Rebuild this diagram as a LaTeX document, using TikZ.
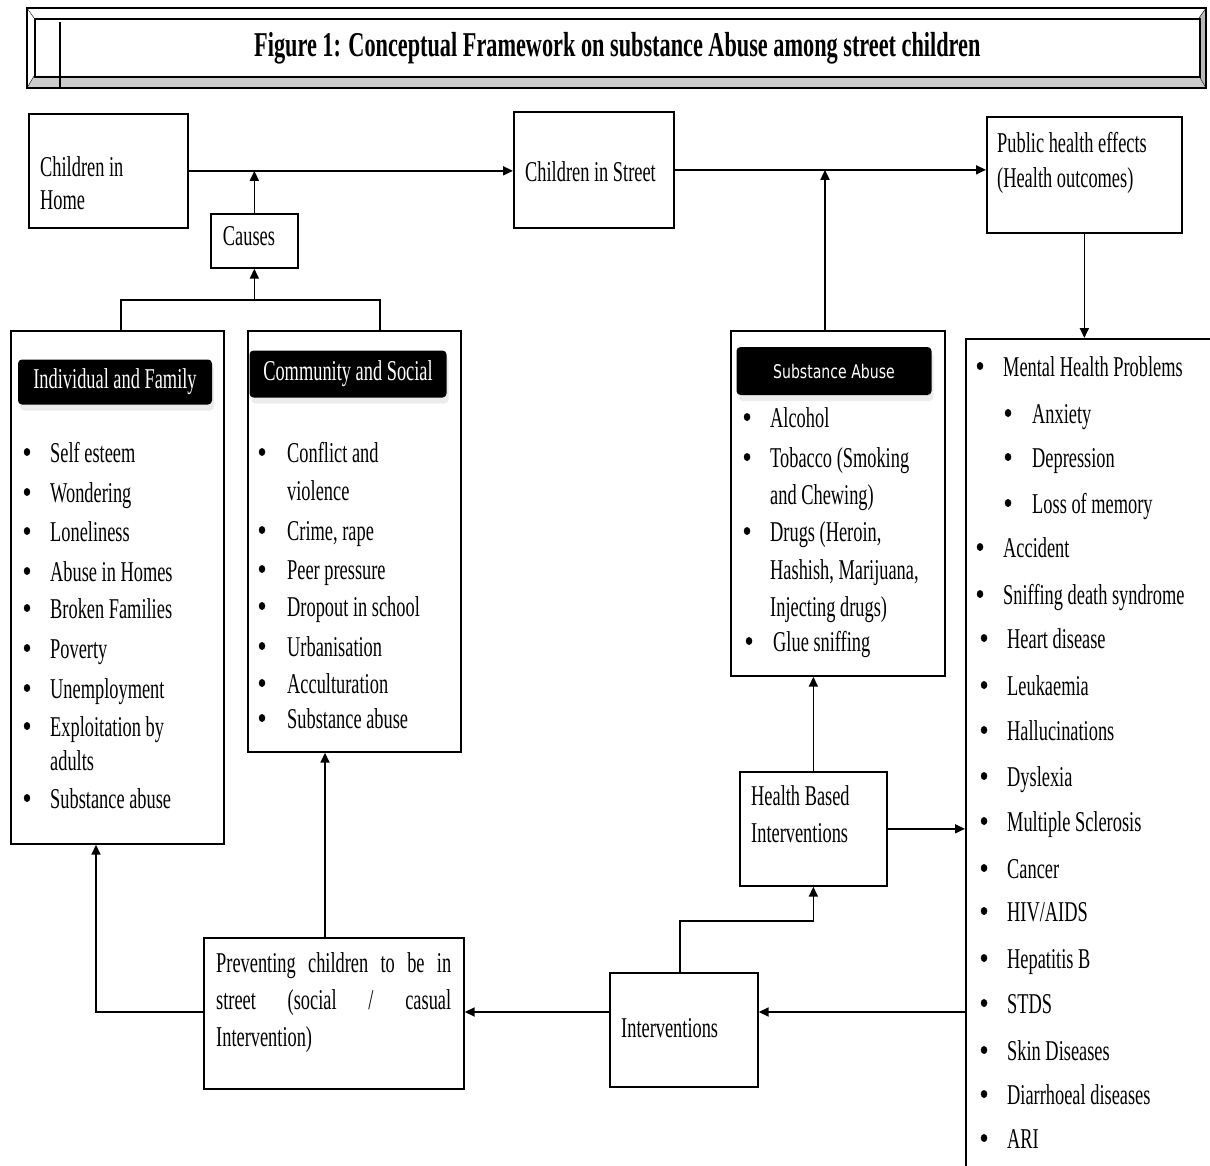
\documentclass[tikz,border=0pt]{standalone}
\usepackage{fontspec}
\setmainfont{Liberation Serif}[FakeStretch=0.64]
\newfontfamily\hdrsans{DejaVu Sans}[FakeStretch=0.75]
\usepackage{tikz}
\usetikzlibrary{arrows.meta, positioning, calc, shadows, shapes.geometric}
\newcommand{\bodyfont}{\fontsize{28.7pt}{34pt}\selectfont}
\newcommand{\titlefont}{\fontsize{34.8pt}{40pt}\selectfont\bfseries}

\begin{document}
\begin{tikzpicture}[
        x=1pt, y=-1pt,
        every node/.style={font=\bodyfont},
        box/.style={draw, line width=1.7pt, anchor=north west, inner sep=0pt},
        hdr/.style={fill=black, rounded corners=4pt, text=white, inner sep=0pt,
            drop shadow={shadow xshift=2pt, shadow yshift=-6pt, fill=black!15}},
        item/.style={anchor=base west, inner sep=0pt},
        bul/.style={anchor=base, inner sep=0pt},
        dot/.style={ellipse, fill, minimum width=6.5pt, minimum height=8pt, inner sep=0pt},
        line/.style={line width=1.7pt},
        arrow/.style={-{Triangle[length=10pt, width=9pt]}, line width=1.7pt}
    ]
        \useasboundingbox (0,0) rectangle (1210,1166);
        \clip (0,0) rectangle (1210,1166);

        % Title frame
        \fill[gray!40] (27,88) -- (1206,88) -- (1199,76) -- (34,76) -- cycle;
        \fill[gray!55] (1206,8) -- (1206,88) -- (1199,76) -- (1199,18) -- cycle;
        \draw[line width=1.8pt] (27,8) rectangle (1206,88);
        \draw[thin] (27,8) -- (34,18) (27,88) -- (34,76) (1206,8) -- (1199,18) (1206,88) -- (1199,76);
        \node[box, minimum width=1165pt, minimum height=58pt, font=\titlefont] (title) at (34,18)
            {Figure 1: Conceptual Framework on substance Abuse among street children};
        \draw[line width=1.8pt] (60,22) -- (60,88);

        % Top row
        \node[box, minimum width=159pt, minimum height=114pt] (home) at (28,113) {};
        \node[item] (home1) at (40,177) {Children in};
        \node[item] (home2) at (40,210) {Home};
        \node[box, minimum width=87pt, minimum height=54pt] (causes) at (210,213) {};
        \node[bul] (causesTxt) at (249,246) {Causes};
        \node[box, minimum width=160pt, minimum height=116pt] (street) at (513,111) {};
        \node[item] (streetTxt) at (525,182) {Children in Street};
        \node[box, minimum width=195pt, minimum height=116pt] (public) at (986,116) {};
        \node[item] (public1) at (997,153) {Public health effects};
        \node[item] (public2) at (997,188) {(Health outcomes)};

        % Individual and Family
        \node[box, minimum width=213pt, minimum height=513pt] (indiv) at (10,330) {};
        \node[hdr, minimum width=194pt, minimum height=45pt] (indivHdr) at (115,382) {Individual and Family};
        \foreach \y/\t [count=\i] in {462/Self esteem, 502/Wondering, 541/Loneliness, 581/Abuse in Homes,
                618/Broken Families, 658/Poverty, 698/Unemployment, 736/Exploitation by, 808/Substance abuse} {
            \node[dot] (indivB\i) at (27,\y-10) {};
            \node[item] (indiv\i) at (50,\y) {\t};
        }
        \node[item] (indivX) at (50,770) {adults};

        % Community and Social
        \node[box, minimum width=213pt, minimum height=421pt] (comm) at (247,330) {};
        \node[hdr, minimum width=197pt, minimum height=47pt] (commHdr) at (348,374) {Community and Social};
        \foreach \y/\t [count=\i] in {462/Conflict and, 540/{Crime, rape}, 579/Peer pressure, 616/Dropout in school,
                656/Urbanisation, 693/Acculturation, 728/Substance abuse} {
            \node[dot] (commB\i) at (262,\y-10) {};
            \node[item] (comm\i) at (287,\y) {\t};
        }
        \node[item] (commX) at (287,500) {violence};

        % Substance Abuse
        \node[box, minimum width=214pt, minimum height=345pt] (subst) at (730,330) {};
        \node[hdr, minimum width=195pt, minimum height=48pt, font=\hdrsans\fontsize{18.8pt}{22pt}\selectfont] (substHdr) at (834,371) {Substance Abuse};
        \foreach \y/\t [count=\i] in {427/Alcohol, 467/Tobacco (Smoking, 541/{Drugs (Heroin,}} {
            \node[dot] (substB\i) at (747,\y-10) {};
            \node[item] (subst\i) at (770,\y) {\t};
        }
        \node[item] (substX1) at (770,504) {and Chewing)};
        \node[item] (substX2) at (770,579) {Hashish, Marijuana,};
        \node[item] (substX3) at (770,616) {Injecting drugs)};
        \node[dot] (substB4) at (749,641) {};
        \node[item] (subst4) at (773,651) {Glue sniffing};

        % Health outcomes list
        \node[box, minimum width=300pt, minimum height=900pt] (effects) at (965,338) {};
        \foreach \y/\t [count=\i] in {376/Mental Health Problems, 557/Accident, 604/Sniffing death syndrome} {
            \node[dot] (effB\i) at (980,\y-10) {};
            \node[item] (eff\i) at (1003,\y) {\t};
        }
        \foreach \y/\t [count=\i] in {423/Anxiety, 467/Depression, 513/Loss of memory} {
            \node[dot] (mentB\i) at (1008,\y-10) {};
            \node[item] (ment\i) at (1032,\y) {\t};
        }
        \foreach \y/\t [count=\i] in {648/Heart disease, 695/Leukaemia, 740/Hallucinations, 786/Dyslexia,
                831/Multiple Sclerosis, 878/Cancer, 921/{HIV/AIDS}, 968/Hepatitis B, 1013/STDS,
                1060/Skin Diseases, 1104/Diarrhoeal diseases, 1148/ARI} {
            \node[dot] (disB\i) at (984,\y-10) {};
            \node[item] (dis\i) at (1007,\y) {\t};
        }

        % Interventions
        \node[box, minimum width=147pt, minimum height=114pt] (health) at (739,771) {};
        \node[item] (health1) at (751,805) {Health Based};
        \node[item] (health2) at (751,842) {Interventions};
        \node[box, minimum width=148pt, minimum height=114pt] (interv) at (609,972) {};
        \node[item] (intervTxt) at (621,1037) {Interventions};
        \node[box, minimum width=260pt, minimum height=151pt] (prevent) at (203,937) {};
        \node[item] (prev1) at (216,972) {\makebox[235pt][s]{Preventing children to be in}};
        \node[item] (prev2) at (216,1009) {\makebox[235pt][s]{street (social / casual}};
        \node[item] (prev3) at (216,1046) {Intervention)};

        % Connectors
        \coordinate (brL) at (121,300);
        \coordinate (brR) at (380,300);
        \coordinate (subX) at (825,0);
        \coordinate (ivX) at (680,921);
        \coordinate (lowY) at (0,1012);
        \coordinate (pcX) at (325,0);
        \coordinate (piX) at (96,0);
        \draw[arrow] (home.east) -- (home.east -| street.west);
        \draw[arrow] (causes.north) -- (causes.north |- home.east);
        \draw[line] (brL |- indiv.north) -- (brL) -- (brR) -- (brR |- comm.north);
        \draw[arrow] (causes.south |- brL) -- (causes.south);
        \draw[arrow] (street.east) -- (street.east -| public.west);
        \draw[arrow] (subX |- subst.north) -- (subX |- street.east);
        \draw[arrow] (public.south) -- (public.south |- effects.north);
        \draw[arrow] (health.north) -- (health.north |- subst.south);
        \draw[arrow] (ivX |- interv.north) -- (ivX) -| (health.south);
        \draw[arrow] (health.east) -- (health.east -| effects.west);
        \draw[arrow] (effects.west |- lowY) -- (interv.east |- lowY);
        \draw[arrow] (interv.west |- lowY) -- (prevent.east |- lowY);
        \draw[arrow] (pcX |- prevent.north) -- (pcX |- comm.south);
        \draw[arrow] (prevent.west |- lowY) -| (piX |- indiv.south);
    \end{tikzpicture}
\end{document}
